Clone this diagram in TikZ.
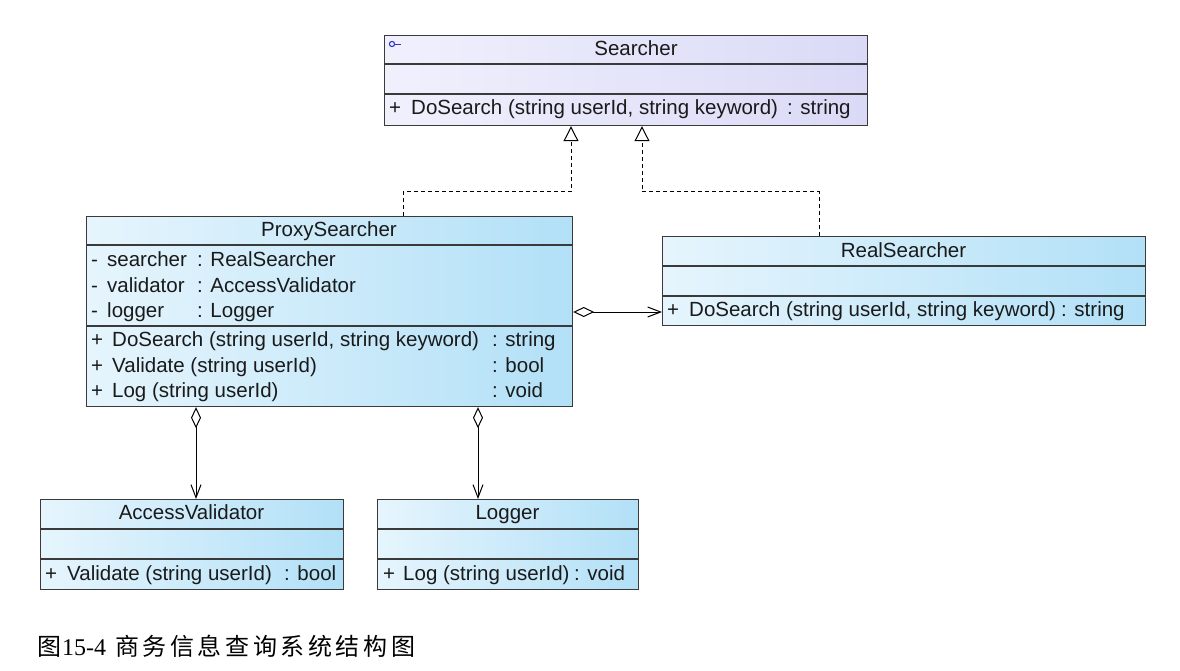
\documentclass[tikz,border=0pt]{standalone}
\usepackage{fontspec}
\setmainfont{Liberation Sans}
\newfontfamily\cjk{Noto Sans CJK SC}
\newfontfamily\serifnum{Liberation Serif}
\usetikzlibrary{arrows.meta}
\definecolor{lav1}{HTML}{F0F0FD}
\definecolor{lav2}{HTML}{DADAF7}
\definecolor{blu1}{HTML}{E6F5FD}
\definecolor{blu2}{HTML}{B2E0F7}
\definecolor{edge}{HTML}{3A3A3A}
\definecolor{txt}{HTML}{1A1A1A}
\definecolor{icon}{HTML}{3434C8}
\tikzset{
  ibox/.style={draw=edge, line width=1.2pt, left color=lav1, right color=lav2, anchor=north west, inner sep=0pt},
  cbox/.style={draw=edge, line width=1.2pt, left color=blu1, right color=blu2, anchor=north west, inner sep=0pt},
  divline/.style={draw=edge, line width=1.1pt},
  lbl/.style={anchor=base west, inner sep=0pt, text=txt, font=\fontsize{20.5}{24}\selectfont},
  ttl/.style={anchor=base, inner sep=0pt, text=txt, font=\fontsize{20.5}{24}\selectfont},
  realize/.style={draw=black, line width=1pt, dash pattern=on 4pt off 3pt, -{Triangle[open, length=15pt, width=15pt, fill=white, line width=1pt]}},
  aggr/.style={draw=black, line width=1pt, {Diamond[open, length=21pt, width=10pt, fill=white, line width=1pt]}-{Straight Barb[length=13pt, width=10pt, line width=1pt]}}
}
\begin{document}
\begin{tikzpicture}[x=1pt, y=-1pt]
\useasboundingbox (0,0) rectangle (1180,671);
\fill[white] (0,0) rectangle (1180,671);

% Searcher (interface)
\node[ibox, minimum width=483pt, minimum height=90pt] (searcher) at (384,35) {};
\draw[divline] (searcher.west |- 0,64) -- (searcher.east |- 0,64);
\draw[divline] (searcher.west |- 0,94) -- (searcher.east |- 0,94);
\draw[icon, line width=1.1pt] (392,44) circle (2.6pt);
\draw[icon, line width=1.1pt] (394.6,44.5) -- (401,44.5);
\node[ttl] (searcherT) at (636,56) {Searcher};
\node[lbl] (searcherP) at (389,115) {+};
\node[lbl] (searcherM) at (411,115) {DoSearch (string userId, string keyword)};
\node[lbl] (searcherR) at (787,115) {: string};

% ProxySearcher
\node[cbox, minimum width=486pt, minimum height=190pt] (proxy) at (86,216) {};
\draw[divline] (proxy.west |- 0,245) -- (proxy.east |- 0,245);
\draw[divline] (proxy.west |- 0,326) -- (proxy.east |- 0,326);
\node[ttl] (proxyT) at (329,236) {ProxySearcher};
\node[lbl] (pa1) at (91,266) {-};
\node[lbl] (pa1n) at (107,266) {searcher};
\node[lbl] (pa1t) at (197,266) {: RealSearcher};
\node[lbl] (pa2) at (91,292) {-};
\node[lbl] (pa2n) at (107,292) {validator};
\node[lbl] (pa2t) at (197,292) {: AccessValidator};
\node[lbl] (pa3) at (91,317) {-};
\node[lbl] (pa3n) at (107,317) {logger};
\node[lbl] (pa3t) at (197,317) {: Logger};
\node[lbl] (pm1) at (91,346) {+};
\node[lbl] (pm1n) at (112,346) {DoSearch (string userId, string keyword)};
\node[lbl] (pm1t) at (492,346) {: string};
\node[lbl] (pm2) at (91,372) {+};
\node[lbl] (pm2n) at (112,372) {Validate (string userId)};
\node[lbl] (pm2t) at (492,372) {: bool};
\node[lbl] (pm3) at (91,397) {+};
\node[lbl] (pm3n) at (112,397) {Log (string userId)};
\node[lbl] (pm3t) at (492,397) {: void};

% RealSearcher
\node[cbox, minimum width=483pt, minimum height=89pt] (real) at (662,236) {};
\draw[divline] (real.west |- 0,266) -- (real.east |- 0,266);
\draw[divline] (real.west |- 0,296) -- (real.east |- 0,296);
\node[ttl] (realT) at (903.5,257) {RealSearcher};
\node[lbl] (realP) at (667,316) {+};
\node[lbl] (realM) at (689,316) {DoSearch (string userId, string keyword)};
\node[lbl] (realR) at (1061,316) {: string};

% AccessValidator
\node[cbox, minimum width=303pt, minimum height=90pt] (acc) at (40,499) {};
\draw[divline] (acc.west |- 0,529) -- (acc.east |- 0,529);
\draw[divline] (acc.west |- 0,559) -- (acc.east |- 0,559);
\node[ttl] (accT) at (191.5,519) {AccessValidator};
\node[lbl] (accP) at (45,580) {+};
\node[lbl] (accM) at (67,580) {Validate (string userId)};
\node[lbl] (accR) at (284,580) {: bool};

% Logger
\node[cbox, minimum width=261pt, minimum height=90pt] (logger) at (377,499) {};
\draw[divline] (logger.west |- 0,529) -- (logger.east |- 0,529);
\draw[divline] (logger.west |- 0,559) -- (logger.east |- 0,559);
\node[ttl] (logT) at (507.5,519) {Logger};
\node[lbl] (logP) at (383,580) {+};
\node[lbl] (logM) at (403,580) {Log (string userId)};
\node[lbl] (logR) at (574,580) {: void};

% realizations
\draw[realize] (proxy.north -| 403,0) -- (403,192) -- (571,192) -- (searcher.south -| 571,0);
\draw[realize] (real.north -| 819,0) -- (819,192) -- (642,192) -- (searcher.south -| 642,0);

% aggregations
\draw[aggr] (proxy.east |- 0,312) -- (real.west |- 0,312);
\draw[aggr] (proxy.south -| 196,0) -- (acc.north -| 196,0);
\draw[aggr] (proxy.south -| 478,0) -- (logger.north -| 478,0);

% caption
\node[anchor=base west, inner sep=0pt, text=black] (caption) at (37,655)
  {\fontsize{24}{28}\selectfont{\cjk 图}\kern1pt{\serifnum 15-4}\hspace{9pt}{\cjk 商\kern3.6pt 务\kern3.6pt 信\kern3.6pt 息\kern3.6pt 查\kern3.6pt 询\kern3.6pt 系\kern3.6pt 统\kern3.6pt 结\kern3.6pt 构\kern3.6pt 图}};
\end{tikzpicture}
\end{document}
